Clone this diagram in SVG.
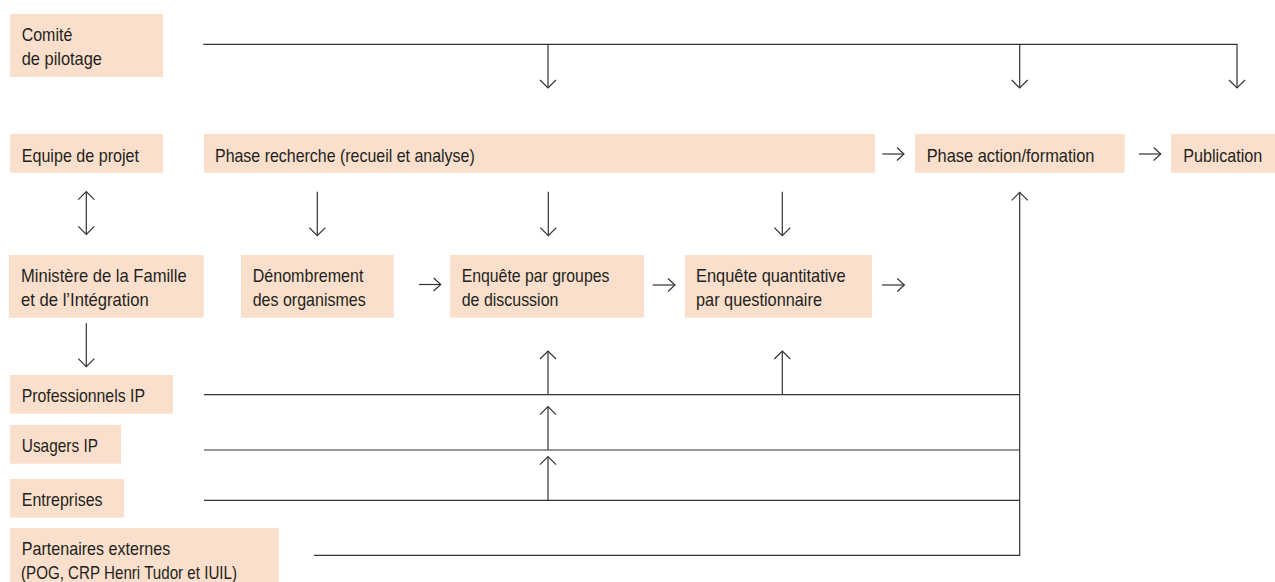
<svg xmlns="http://www.w3.org/2000/svg" width="1275" height="582" viewBox="0 0 1275 582">
  <defs>
    <style>
      .box { fill: #FADFCC; }
      .lbl { font-family: "Liberation Sans Narrow", "Liberation Sans", Arial, sans-serif; font-size: 18.5px; fill: #231F20; lengthAdjust: spacingAndGlyphs; }
      .wire { fill: none; stroke: #333333; stroke-width: 1.2; }
    </style>
    <marker id="head" markerUnits="userSpaceOnUse" markerWidth="20" markerHeight="20" viewBox="-10 -10 20 20" refX="0" refY="0" orient="auto-start-reverse">
      <path d="M-8,-8 L0,0 L-8,8" fill="none" stroke="#333333" stroke-width="1.2"/>
    </marker>
    <marker id="head-s" markerUnits="userSpaceOnUse" markerWidth="20" markerHeight="20" viewBox="-10 -10 20 20" refX="0" refY="0" orient="auto">
      <path d="M-7,-6.5 L0,0 L-7,6.5" fill="none" stroke="#333333" stroke-width="1.2"/>
    </marker>
  </defs>
  <rect width="1275" height="582" fill="#FFFFFF"/>

  <!-- left column -->
  <g id="comite">
    <rect class="box" x="10" y="14" width="153" height="63"/>
    <text class="lbl" x="21.7" y="41" textLength="50.6" lengthAdjust="spacingAndGlyphs">Comité</text>
    <text class="lbl" x="21.7" y="64.5" textLength="80.3" lengthAdjust="spacingAndGlyphs">de pilotage</text>
  </g>
  <g id="equipe">
    <rect class="box" x="10" y="134" width="153" height="38.7"/>
    <text class="lbl" x="21.7" y="161.7" textLength="117.3" lengthAdjust="spacingAndGlyphs">Equipe de projet</text>
  </g>
  <g id="ministere">
    <rect class="box" x="9" y="255" width="194.7" height="62.7"/>
    <text class="lbl" x="21" y="282.3" textLength="165.7" lengthAdjust="spacingAndGlyphs">Ministère de la Famille</text>
    <text class="lbl" x="21" y="306" textLength="127.7" lengthAdjust="spacingAndGlyphs">et de l’Intégration</text>
  </g>
  <g id="professionnels">
    <rect class="box" x="10" y="375" width="163" height="38.7"/>
    <text class="lbl" x="21.7" y="402.3" textLength="123.3" lengthAdjust="spacingAndGlyphs">Professionnels IP</text>
  </g>
  <g id="usagers">
    <rect class="box" x="10" y="425" width="111" height="38.7"/>
    <text class="lbl" x="21.8" y="452.3" textLength="76.2" lengthAdjust="spacingAndGlyphs">Usagers IP</text>
  </g>
  <g id="entreprises">
    <rect class="box" x="10" y="479" width="114" height="38.7"/>
    <text class="lbl" x="21.8" y="506.3" textLength="80.8" lengthAdjust="spacingAndGlyphs">Entreprises</text>
  </g>
  <g id="partenaires">
    <rect class="box" x="10" y="528" width="268.7" height="60"/>
    <text class="lbl" x="21.8" y="555.3" textLength="148.5" lengthAdjust="spacingAndGlyphs">Partenaires externes</text>
    <text class="lbl" x="21" y="578.5" textLength="216" lengthAdjust="spacingAndGlyphs">(POG, CRP Henri Tudor et IUIL)</text>
  </g>

  <!-- phases -->
  <g id="phase-recherche">
    <rect class="box" x="204" y="134" width="671" height="38.7"/>
    <text class="lbl" x="215" y="161.7" textLength="259.7" lengthAdjust="spacingAndGlyphs">Phase recherche (recueil et analyse)</text>
  </g>
  <g id="phase-action">
    <rect class="box" x="915" y="134" width="209.7" height="38.7"/>
    <text class="lbl" x="926.7" y="161.7" textLength="167.7" lengthAdjust="spacingAndGlyphs">Phase action/formation</text>
  </g>
  <g id="publication">
    <rect class="box" x="1171" y="134" width="110" height="38.7"/>
    <text class="lbl" x="1183.3" y="161.7" textLength="79" lengthAdjust="spacingAndGlyphs">Publication</text>
  </g>

  <!-- research steps -->
  <g id="denombrement">
    <rect class="box" x="241" y="255" width="152.7" height="62.7"/>
    <text class="lbl" x="252.7" y="282.3" textLength="110.7" lengthAdjust="spacingAndGlyphs">Dénombrement</text>
    <text class="lbl" x="252.7" y="306" textLength="113" lengthAdjust="spacingAndGlyphs">des organismes</text>
  </g>
  <g id="enquete-groupes">
    <rect class="box" x="450" y="255" width="194" height="62.7"/>
    <text class="lbl" x="461.7" y="282.3" textLength="147.7" lengthAdjust="spacingAndGlyphs">Enquête par groupes</text>
    <text class="lbl" x="461.7" y="306" textLength="96.7" lengthAdjust="spacingAndGlyphs">de discussion</text>
  </g>
  <g id="enquete-quantitative">
    <rect class="box" x="685" y="255" width="187" height="62.7"/>
    <text class="lbl" x="696" y="282.3" textLength="149.7" lengthAdjust="spacingAndGlyphs">Enquête quantitative</text>
    <text class="lbl" x="696" y="306" textLength="126" lengthAdjust="spacingAndGlyphs">par questionnaire</text>
  </g>

  <!-- connectors -->
  <g id="connectors" class="wire">
    <!-- steering committee bus -->
    <path d="M203.3,44.3 H1237 V88" marker-end="url(#head)"/>
    <path d="M548,44.3 V88" marker-end="url(#head)"/>
    <path d="M1019.7,44.3 V88" marker-end="url(#head)"/>

    <!-- project team and ministry -->
    <path d="M86.3,191.7 V234.3" marker-start="url(#head)" marker-end="url(#head)"/>
    <path d="M86.3,323.3 V366.7" marker-end="url(#head)"/>

    <!-- research phase to its steps -->
    <path d="M317.3,191.7 V235.7" marker-end="url(#head)"/>
    <path d="M548.3,191.7 V235.7" marker-end="url(#head)"/>
    <path d="M782.3,191.7 V235.7" marker-end="url(#head)"/>

    <!-- horizontal flow -->
    <path d="M882.3,154 H904" marker-end="url(#head-s)"/>
    <path d="M1139,154 H1160.7" marker-end="url(#head-s)"/>
    <path d="M419,284.5 H440.7" marker-end="url(#head-s)"/>
    <path d="M652.7,285 H675" marker-end="url(#head-s)"/>
    <path d="M882,285 H904.3" marker-end="url(#head-s)"/>

    <!-- stakeholder lines -->
    <path d="M204,394.7 H1019.7"/>
    <path d="M204,450 H1019.7"/>
    <path d="M204,500.3 H1019.7"/>
    <path d="M314,555.3 H1019.7 V192.3" marker-end="url(#head)"/>

    <!-- inputs to the surveys -->
    <path d="M548,394.7 V351" marker-end="url(#head)"/>
    <path d="M548,450 V406.7" marker-end="url(#head)"/>
    <path d="M548,500.3 V456.7" marker-end="url(#head)"/>
    <path d="M782.3,394.7 V351" marker-end="url(#head)"/>
  </g>
</svg>
